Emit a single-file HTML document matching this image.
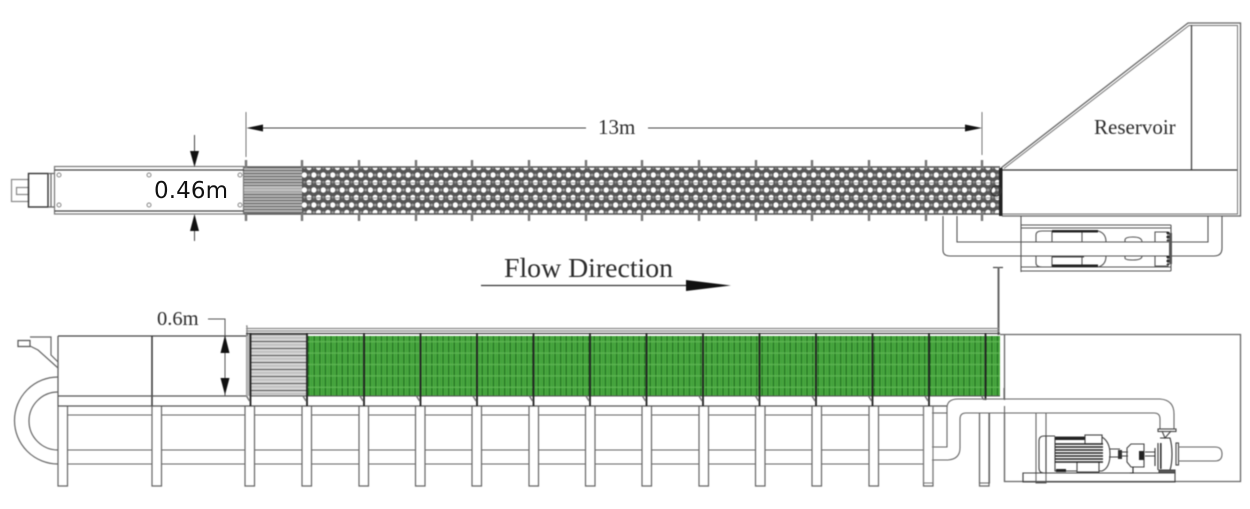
<!DOCTYPE html>
<html lang="en">
<head>
<meta charset="utf-8">
<title>Flume diagram</title>
<style>
html,body{margin:0;padding:0;background:#fff}
svg{display:block;position:absolute;left:0;top:0}
#d{filter:blur(.45px)}
text{fill:#2b2b2b}
.s{font-family:"Liberation Serif",serif}
</style>
</head>
<body>
<svg id="d" width="1250" height="509" viewBox="0 0 1250 509" xmlns="http://www.w3.org/2000/svg">
<defs>
<pattern id="hex" x="302" y="167.5" width="9.43" height="15" patternUnits="userSpaceOnUse">
<rect width="9.43" height="15" fill="#565656"/>
<circle cx="2.4" cy="7.5" r="2.7" fill="#fff"/>
<circle cx="7.1" cy="0" r="2.7" fill="#fff"/>
<circle cx="7.1" cy="15" r="2.7" fill="#fff"/>
<circle cx="7.1" cy="7.5" r="1.4" fill="#9a9a9a"/>
<circle cx="2.4" cy="0" r="1.4" fill="#9a9a9a"/>
<circle cx="2.4" cy="15" r="1.4" fill="#9a9a9a"/>
</pattern>
<pattern id="gt" x="0" y="167" width="10" height="3" patternUnits="userSpaceOnUse">
<rect width="10" height="3" fill="#b8b8b8"/>
<rect width="10" height="1.1" fill="#666"/>
</pattern>
<pattern id="gb" x="0" y="334" width="10" height="7" patternUnits="userSpaceOnUse">
<rect width="10" height="7" fill="#d4d4d4"/>
<rect width="10" height="1" fill="#555"/>
<rect y="3.5" width="10" height=".7" fill="#aaa"/>
</pattern>
<pattern id="green" x="307" y="336" width="5.6" height="11.4" patternUnits="userSpaceOnUse">
<rect width="5.6" height="11.4" fill="#4aa93f"/>
<rect x="1" width="1.3" height="11.4" fill="#247624"/>
<rect x="4.2" width="0.6" height="11.4" fill="#37953a"/>
<rect y="5" width="5.6" height="1.4" fill="#62b956" opacity=".8"/>
</pattern>
<g id="tick"><rect x="-1.2" y="160" width="2.4" height="8" fill="#777"/><rect x="-1.2" y="213" width="2.4" height="8" fill="#777"/></g>
<g id="leg"><path d="M0 406V486H9.5V406" fill="#fff" stroke="#666" stroke-width="1.2"/></g>
<g id="div"><rect x="-.9" y="333" width="1.8" height="73" fill="#222"/><path d="M-4 396l3 5" stroke="#777" stroke-width="1.5"/></g>
</defs>

<!-- TOP VIEW -->
<g fill="none" stroke="#666" stroke-width="1.2">
<rect x="11.5" y="179.5" width="17" height="22" stroke="#888"/>
<rect x="16.5" y="187.5" width="12" height="7" stroke="#888"/>
<rect x="28.5" y="173.5" width="19.5" height="33.5" stroke="#333" stroke-width="1.4"/>
<path d="M48 173.5H54M48 207H54M51 173.5V207"/>
<rect x="54.5" y="166.5" width="189" height="47.5" stroke="#777"/>
<path d="M54.5 170H244M54.5 211H244" stroke="#444"/>
<g stroke="#888" stroke-width="1"><circle cx="59" cy="175" r="2"/><circle cx="59" cy="205" r="2"/><circle cx="149" cy="175" r="2"/><circle cx="149" cy="205" r="2"/><circle cx="240" cy="175" r="2"/><circle cx="240" cy="205" r="2"/></g>
</g>
<rect x="244" y="167" width="58" height="47" fill="url(#gt)"/>
<rect x="244" y="186" width="58" height="6" fill="#ccc" opacity=".6"/>
<rect x="302" y="167" width="697" height="47" fill="url(#hex)"/>
<path d="M302 183H999M302 198H999" stroke="#444" stroke-width="1" opacity=".55"/>
<path d="M244 167H1000M244 214H1000" stroke="#555" stroke-width="1.4"/>
<use href="#tick" x="246"/><use href="#tick" x="302"/><use href="#tick" x="359"/><use href="#tick" x="416"/><use href="#tick" x="472"/><use href="#tick" x="529"/><use href="#tick" x="586"/><use href="#tick" x="642"/><use href="#tick" x="699"/><use href="#tick" x="756"/><use href="#tick" x="812"/><use href="#tick" x="869"/><use href="#tick" x="926"/><use href="#tick" x="982"/>

<!-- dims top -->
<g stroke="#444" stroke-width="1" fill="none">
<path d="M194.5 135V151M194.5 227V241"/>
<path d="M246 112V157M982 112V155" stroke="#777"/>
<path d="M260 128H586M648 128H968"/>
</g>
<path d="M190 151H199L194.5 167ZM190 231H199L194.5 214ZM246.5 128L263 124.5V131.5ZM982 128L965 124.5V131.5Z" fill="#111"/>
<text class="s" x="598" y="134" font-size="21">13m</text>

<!-- reservoir -->
<g fill="none" stroke="#666" stroke-width="1.3">
<path d="M1001 168L1188 23H1240.5V216H1002"/>
<path d="M1004 168.5L1189 25.5H1237.5V214H1002" stroke="#777" stroke-width="1"/>
<path d="M1191.5 25V170" stroke="#444"/>
<path d="M1002 170H1237" stroke="#333"/>
</g>
<rect x="999" y="168" width="3.5" height="48" fill="#222"/>
<circle cx="996" cy="191" r="5" fill="none" stroke="#333" stroke-width="1.2"/>
<text class="s" x="1094" y="134" font-size="21">Reservoir</text>

<!-- top pump -->
<g fill="none" stroke="#555" stroke-width="1.1">
<path d="M1021 216V272"/>
<path d="M1021 225H1171M1021 228H1171M1021 267H1171M1021 271H1171"/>
<path d="M1171 225V271"/>
<path d="M957 216V242H1208V216"/>
<path d="M943 216V250Q943 256 950 256H1214Q1222 256 1222 248V216"/>
<path d="M1042 242H1036V235Q1036 231 1042 231H1098Q1106 233 1106 242M1042 256H1036V263Q1036 267 1042 267H1098Q1106 265 1106 256"/>
<path d="M1052 231V242M1052 256V267M1082 231V242M1082 256V267"/>
<path d="M1125 242V240Q1125 237 1133 237Q1142 237 1142 242M1125 256V258Q1125 260 1133 260Q1142 260 1142 256"/>
<path d="M1155 242V232H1168V242M1155 256V266H1168V256"/>
</g>
<rect x="1052" y="230" width="46" height="2.5" fill="#222"/>
<rect x="1052" y="264.5" width="46" height="2.5" fill="#222"/>
<rect x="1052" y="256" width="32" height="1.5" fill="#444"/>
<rect x="1169" y="233" width="3" height="31" fill="#555"/>
<path d="M1168 232V241M1168 256V265" stroke="#222" stroke-width="3" stroke-dasharray="2 2"/>

<!-- T / gauge -->
<path d="M993 267.5H1003" stroke="#444" stroke-width="1.2"/>
<path d="M998.5 267V335" stroke="#666" stroke-width="2"/>

<!-- flow direction -->
<text class="s" x="504" y="277" font-size="27.8">Flow Direction</text>
<path d="M481 285.5H690" stroke="#333" stroke-width="1.2"/>
<path d="M686 280L731 285.5L686 291Z" fill="#111"/>

<!-- SIDE VIEW: legs and frame -->
<path d="M58 450H945M58 464H932" stroke="#666" stroke-width="1" fill="none"/>
<path d="M67 415H152M161 415H245M254 415H302M311 415H359" stroke="#666" stroke-width="1.1"/>
<path d="M368 415H415M424 415H472M481 415H529M538 415H585M594 415H642M651 415H699M708 415H755M764 415H812M821 415H869M878 415H925" stroke="#666" stroke-width="1.1"/>
<use href="#leg" x="58"/><use href="#leg" x="152"/><use href="#leg" x="245"/><use href="#leg" x="302"/><use href="#leg" x="359"/><use href="#leg" x="415.5"/><use href="#leg" x="472"/><use href="#leg" x="529"/><use href="#leg" x="585.5"/><use href="#leg" x="642"/><use href="#leg" x="699"/><use href="#leg" x="755.5"/><use href="#leg" x="812"/><use href="#leg" x="869"/><use href="#leg" x="923.5"/><use href="#leg" x="979.5"/>

<!-- side channel -->
<g fill="none" stroke="#555" stroke-width="1.2">
<path d="M58 336H246" stroke="#444"/>
<path d="M58 336V406"/>
<path d="M152 336V406" stroke="#333" stroke-width="1.5"/>
<path d="M58 396H246"/>
<path d="M58 406H947" stroke="#555"/>
<path d="M247 336V326H246" stroke="#888"/>
<path d="M246 328.5H999M246 331H999" stroke="#888"/>
<!-- inlet -->
<path d="M18 340.5H30V346.5H18Z"/>
<path d="M30 337H51V355L58 362V368L38 350L30 346" stroke="#666"/>
<!-- U pipe -->
<path d="M58 377A43.5 43.5 0 0 0 58 464" stroke="#666"/>
<path d="M58 392A29 29 0 0 0 58 450" stroke="#666"/>
</g>
<rect x="250" y="334" width="57" height="62" fill="url(#gb)"/>
<path d="M246.5 334V396M248 334V396M249.5 334V396" stroke="#777" stroke-width=".8"/>
<rect x="307" y="336" width="693" height="60" fill="url(#green)"/>
<path d="M246 333.5H1000" stroke="#444" stroke-width="1.2"/>
<path d="M250 396H1000" stroke="#555" stroke-width="1"/>
<use href="#div" x="250.5"/><use href="#div" x="307"/><use href="#div" x="364"/><use href="#div" x="420.5"/><use href="#div" x="477"/><use href="#div" x="533.5"/><use href="#div" x="590"/><use href="#div" x="646.5"/><use href="#div" x="703"/><use href="#div" x="759.5"/><use href="#div" x="816"/><use href="#div" x="872.5"/><use href="#div" x="929"/><use href="#div" x="985.5"/>

<!-- 0.6m dim -->
<text class="s" x="157" y="325" font-size="20.5">0.6m</text>
<path d="M208 319H225V396" fill="none" stroke="#555" stroke-width="1"/>
<path d="M225 335L220.5 353H229.5ZM225 395L220.5 378H229.5Z" fill="#111"/>

<!-- Right box -->
<g fill="none" stroke="#666" stroke-width="1.3">
<path d="M1000 334.5H1240.5V481.5H1004.5V334.5"/>
</g>
<!-- side pipe -->
<rect x="948" y="400" width="225" height="13" fill="#fff"/>
<rect x="948" y="405" width="12" height="42" fill="#fff"/>
<rect x="932" y="447" width="20" height="13" fill="#fff"/>
<rect x="1161" y="405" width="13" height="24" fill="#fff"/>
<g fill="none" stroke="#666" stroke-width="1.1">
<path d="M932 447H947V408Q947 399 958 399H1160Q1174 400 1174 414V429"/>
<path d="M932 460H948Q960 459 960 448V419Q960 413 966 413H1154Q1160 413 1160 419V429"/>
<path d="M932 413H947"/>
<path d="M979.5 413V483H989.5V413M1036 413V483H1046V413"/>
<path d="M923.5 406V483H933V406" stroke="#777"/>
<path d="M1004.5 406V413M1004.5 413V482"/>
<path d="M1004 388V399" stroke="#666"/>
</g>
<!-- bottom pump -->
<g fill="none" stroke="#444" stroke-width="1.1">
<rect x="1158" y="429" width="18" height="2.5"/>
<path d="M1023 473H1175V482H1023Z"/>
<path d="M1054 473H1023V482"/>
<path d="M1162 431L1165 438L1171 431"/>
<path d="M1109 449H1120M1109 457H1120"/>
<path d="M1122 452H1128M1122 456H1128M1145 452H1155M1145 456H1155"/>
<path d="M1127 448L1131 444H1144V467H1131L1127 462Z"/>
<path d="M1133 467V473H1130" stroke="#222"/>
<path d="M1155 448V466M1158 443V470M1160 438H1170Q1172 445 1172 454Q1172 464 1170 470H1160" stroke="#333"/>
<rect x="1176" y="443" width="2.5" height="22"/>
<path d="M1178 447H1215Q1222 447 1222 454Q1222 461 1215 461H1178" stroke="#666"/>
<path d="M1159 470H1175V473H1159Z" fill="#555"/>
</g>
<g fill="none" stroke="#444" stroke-width="1.1">
<path d="M1055 436H1044Q1039 436 1039 441V468Q1039 473 1044 473H1055"/>
<path d="M1046 436V473"/>
<path d="M1055 437H1085V435H1102V437Q1110 442 1110 454Q1110 468 1102 471H1055Z"/>
<rect x="1085" y="435" width="17" height="9" fill="#fff"/>
<rect x="1077" y="462" width="22" height="10" fill="#fff"/>
</g>
<g stroke="#222" stroke-width="1.4">
<path d="M1055 444H1103M1055 447H1103M1055 450H1103M1055 453H1103M1055 456H1103M1055 459H1103M1055 462H1103"/>
</g>
<rect x="1055" y="437" width="30" height="3" fill="#222"/>
<rect x="1056" y="469" width="10" height="3" fill="#222"/>
<rect x="1118" y="450" width="4" height="9" fill="#333"/>
<rect x="1139" y="451" width="5" height="9" fill="#222"/>
<rect x="1160" y="443" width="1.6" height="26" fill="#333"/>
</svg>
<svg width="1250" height="509" viewBox="0 0 1250 509" xmlns="http://www.w3.org/2000/svg">
<text x="154" y="198" font-family="'DejaVu Sans',sans-serif" font-size="23" style="fill:#111" textLength="74">0.46m</text>
</svg>
</body>
</html>
